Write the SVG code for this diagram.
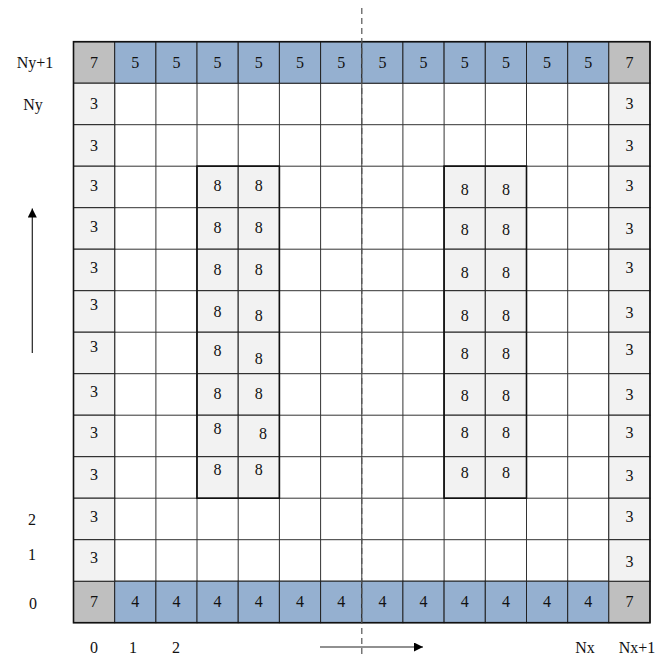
<svg xmlns="http://www.w3.org/2000/svg" width="665" height="655" viewBox="0 0 665 655">
<style>
.t{font-family:"Liberation Serif","Times New Roman",serif;font-size:16px;fill:#111;text-anchor:middle}
.b{fill:#95b0d0;stroke:#222;stroke-width:1}
.g{fill:#bfbfbf;stroke:#222;stroke-width:1}
.l{fill:#f2f2f2;stroke:#222;stroke-width:1}
.gl{stroke:#333;stroke-width:1;fill:none}
.ol{fill:none;stroke:#111;stroke-width:1.6}
</style>
<defs>
<marker id="ah" viewBox="0 0 10 10" refX="10" refY="5" markerWidth="13" markerHeight="9" markerUnits="userSpaceOnUse" orient="auto">
<path d="M0,0 L10,5 L0,10 Z" fill="#000"/>
</marker>
</defs>
<rect width="665" height="655" fill="#fff"/>
<g id="grid">
<rect x="73.5" y="41.7" width="576.5" height="581" fill="#fff"/>
<path class="gl" d="M114.7,41.7V622.7M155.9,41.7V622.7M197,41.7V622.7M238.2,41.7V622.7M279.4,41.7V622.7M320.6,41.7V622.7M361.8,41.7V622.7M402.9,41.7V622.7M444.1,41.7V622.7M485.3,41.7V622.7M526.5,41.7V622.7M567.7,41.7V622.7M608.8,41.7V622.7M73.5,83.2H650M73.5,124.7H650M73.5,166.2H650M73.5,207.7H650M73.5,249.2H650M73.5,290.7H650M73.5,332.2H650M73.5,373.7H650M73.5,415.2H650M73.5,456.7H650M73.5,498.2H650M73.5,539.7H650M73.5,581.2H650"/>
</g>
<!-- top row -->
<g id="t0"><rect class="g" x="73.5" y="41.7" width="41.2" height="41.5"/><text class="t" x="94.1" y="67.5">7</text></g>
<g id="t1"><rect class="b" x="114.7" y="41.7" width="41.2" height="41.5"/><text class="t" x="135.3" y="67.5">5</text></g>
<g id="t2"><rect class="b" x="155.9" y="41.7" width="41.2" height="41.5"/><text class="t" x="176.5" y="67.5">5</text></g>
<g id="t3"><rect class="b" x="197" y="41.7" width="41.2" height="41.5"/><text class="t" x="217.6" y="67.5">5</text></g>
<g id="t4"><rect class="b" x="238.2" y="41.7" width="41.2" height="41.5"/><text class="t" x="258.8" y="67.5">5</text></g>
<g id="t5"><rect class="b" x="279.4" y="41.7" width="41.2" height="41.5"/><text class="t" x="300" y="67.5">5</text></g>
<g id="t6"><rect class="b" x="320.6" y="41.7" width="41.2" height="41.5"/><text class="t" x="341.2" y="67.5">5</text></g>
<g id="t7"><rect class="b" x="361.8" y="41.7" width="41.2" height="41.5"/><text class="t" x="382.4" y="67.5">5</text></g>
<g id="t8"><rect class="b" x="402.9" y="41.7" width="41.2" height="41.5"/><text class="t" x="423.5" y="67.5">5</text></g>
<g id="t9"><rect class="b" x="444.1" y="41.7" width="41.2" height="41.5"/><text class="t" x="464.7" y="67.5">5</text></g>
<g id="t10"><rect class="b" x="485.3" y="41.7" width="41.2" height="41.5"/><text class="t" x="505.9" y="67.5">5</text></g>
<g id="t11"><rect class="b" x="526.5" y="41.7" width="41.2" height="41.5"/><text class="t" x="547.1" y="67.5">5</text></g>
<g id="t12"><rect class="b" x="567.7" y="41.7" width="41.2" height="41.5"/><text class="t" x="588.3" y="67.5">5</text></g>
<g id="t13"><rect class="g" x="608.8" y="41.7" width="41.2" height="41.5"/><text class="t" x="629.4" y="67.5">7</text></g>
<!-- bottom row -->
<g id="b0"><rect class="g" x="73.5" y="581.2" width="41.2" height="41.5"/><text class="t" x="94.1" y="607">7</text></g>
<g id="b1"><rect class="b" x="114.7" y="581.2" width="41.2" height="41.5"/><text class="t" x="135.3" y="607">4</text></g>
<g id="b2"><rect class="b" x="155.9" y="581.2" width="41.2" height="41.5"/><text class="t" x="176.5" y="607">4</text></g>
<g id="b3"><rect class="b" x="197" y="581.2" width="41.2" height="41.5"/><text class="t" x="217.6" y="607">4</text></g>
<g id="b4"><rect class="b" x="238.2" y="581.2" width="41.2" height="41.5"/><text class="t" x="258.8" y="607">4</text></g>
<g id="b5"><rect class="b" x="279.4" y="581.2" width="41.2" height="41.5"/><text class="t" x="300" y="607">4</text></g>
<g id="b6"><rect class="b" x="320.6" y="581.2" width="41.2" height="41.5"/><text class="t" x="341.2" y="607">4</text></g>
<g id="b7"><rect class="b" x="361.8" y="581.2" width="41.2" height="41.5"/><text class="t" x="382.4" y="607">4</text></g>
<g id="b8"><rect class="b" x="402.9" y="581.2" width="41.2" height="41.5"/><text class="t" x="423.5" y="607">4</text></g>
<g id="b9"><rect class="b" x="444.1" y="581.2" width="41.2" height="41.5"/><text class="t" x="464.7" y="607">4</text></g>
<g id="b10"><rect class="b" x="485.3" y="581.2" width="41.2" height="41.5"/><text class="t" x="505.9" y="607">4</text></g>
<g id="b11"><rect class="b" x="526.5" y="581.2" width="41.2" height="41.5"/><text class="t" x="547.1" y="607">4</text></g>
<g id="b12"><rect class="b" x="567.7" y="581.2" width="41.2" height="41.5"/><text class="t" x="588.3" y="607">4</text></g>
<g id="b13"><rect class="g" x="608.8" y="581.2" width="41.2" height="41.5"/><text class="t" x="629.4" y="607">7</text></g>
<!-- left column -->
<g id="l1"><rect class="l" x="73.5" y="83.2" width="41.2" height="41.5"/><text class="t" x="94.1" y="109">3</text></g>
<g id="l2"><rect class="l" x="73.5" y="124.7" width="41.2" height="41.5"/><text class="t" x="94.1" y="150.5">3</text></g>
<g id="l3"><rect class="l" x="73.5" y="166.2" width="41.2" height="41.5"/><text class="t" x="94.1" y="191">3</text></g>
<g id="l4"><rect class="l" x="73.5" y="207.7" width="41.2" height="41.5"/><text class="t" x="94.1" y="232">3</text></g>
<g id="l5"><rect class="l" x="73.5" y="249.2" width="41.2" height="41.5"/><text class="t" x="94.1" y="273">3</text></g>
<g id="l6"><rect class="l" x="73.5" y="290.7" width="41.2" height="41.5"/><text class="t" x="94.1" y="310">3</text></g>
<g id="l7"><rect class="l" x="73.5" y="332.2" width="41.2" height="41.5"/><text class="t" x="94.1" y="352">3</text></g>
<g id="l8"><rect class="l" x="73.5" y="373.7" width="41.2" height="41.5"/><text class="t" x="94.1" y="397">3</text></g>
<g id="l9"><rect class="l" x="73.5" y="415.2" width="41.2" height="41.5"/><text class="t" x="94.1" y="438">3</text></g>
<g id="l10"><rect class="l" x="73.5" y="456.7" width="41.2" height="41.5"/><text class="t" x="94.1" y="480">3</text></g>
<g id="l11"><rect class="l" x="73.5" y="498.2" width="41.2" height="41.5"/><text class="t" x="94.1" y="522">3</text></g>
<g id="l12"><rect class="l" x="73.5" y="539.7" width="41.2" height="41.5"/><text class="t" x="94.1" y="563">3</text></g>
<!-- right column -->
<g id="r1"><rect class="l" x="608.8" y="83.2" width="41.2" height="41.5"/><text class="t" x="629.4" y="109">3</text></g>
<g id="r2"><rect class="l" x="608.8" y="124.7" width="41.2" height="41.5"/><text class="t" x="629.4" y="150.5">3</text></g>
<g id="r3"><rect class="l" x="608.8" y="166.2" width="41.2" height="41.5"/><text class="t" x="629.4" y="191">3</text></g>
<g id="r4"><rect class="l" x="608.8" y="207.7" width="41.2" height="41.5"/><text class="t" x="629.4" y="234">3</text></g>
<g id="r5"><rect class="l" x="608.8" y="249.2" width="41.2" height="41.5"/><text class="t" x="629.4" y="273">3</text></g>
<g id="r6"><rect class="l" x="608.8" y="290.7" width="41.2" height="41.5"/><text class="t" x="629.4" y="318">3</text></g>
<g id="r7"><rect class="l" x="608.8" y="332.2" width="41.2" height="41.5"/><text class="t" x="629.4" y="355">3</text></g>
<g id="r8"><rect class="l" x="608.8" y="373.7" width="41.2" height="41.5"/><text class="t" x="629.4" y="400">3</text></g>
<g id="r9"><rect class="l" x="608.8" y="415.2" width="41.2" height="41.5"/><text class="t" x="629.4" y="438">3</text></g>
<g id="r10"><rect class="l" x="608.8" y="456.7" width="41.2" height="41.5"/><text class="t" x="629.4" y="481">3</text></g>
<g id="r11"><rect class="l" x="608.8" y="498.2" width="41.2" height="41.5"/><text class="t" x="629.4" y="522">3</text></g>
<g id="r12"><rect class="l" x="608.8" y="539.7" width="41.2" height="41.5"/><text class="t" x="629.4" y="567">3</text></g>
<!-- left 8 block -->
<g id="p3_3"><rect class="l" x="197" y="166.2" width="41.2" height="41.5"/><text class="t" x="217.6" y="191">8</text></g>
<g id="p3_4"><rect class="l" x="238.2" y="166.2" width="41.2" height="41.5"/><text class="t" x="258.8" y="191">8</text></g>
<g id="p4_3"><rect class="l" x="197" y="207.7" width="41.2" height="41.5"/><text class="t" x="217.6" y="233">8</text></g>
<g id="p4_4"><rect class="l" x="238.2" y="207.7" width="41.2" height="41.5"/><text class="t" x="258.8" y="233">8</text></g>
<g id="p5_3"><rect class="l" x="197" y="249.2" width="41.2" height="41.5"/><text class="t" x="217.6" y="275">8</text></g>
<g id="p5_4"><rect class="l" x="238.2" y="249.2" width="41.2" height="41.5"/><text class="t" x="258.8" y="275">8</text></g>
<g id="p6_3"><rect class="l" x="197" y="290.7" width="41.2" height="41.5"/><text class="t" x="217.6" y="317">8</text></g>
<g id="p6_4"><rect class="l" x="238.2" y="290.7" width="41.2" height="41.5"/><text class="t" x="258.8" y="321">8</text></g>
<g id="p7_3"><rect class="l" x="197" y="332.2" width="41.2" height="41.5"/><text class="t" x="217.6" y="356">8</text></g>
<g id="p7_4"><rect class="l" x="238.2" y="332.2" width="41.2" height="41.5"/><text class="t" x="258.8" y="364">8</text></g>
<g id="p8_3"><rect class="l" x="197" y="373.7" width="41.2" height="41.5"/><text class="t" x="217.6" y="399">8</text></g>
<g id="p8_4"><rect class="l" x="238.2" y="373.7" width="41.2" height="41.5"/><text class="t" x="258.8" y="399">8</text></g>
<g id="p9_3"><rect class="l" x="197" y="415.2" width="41.2" height="41.5"/><text class="t" x="217.6" y="434">8</text></g>
<g id="p9_4"><rect class="l" x="238.2" y="415.2" width="41.2" height="41.5"/><text class="t" x="263" y="439">8</text></g>
<g id="p10_3"><rect class="l" x="197" y="456.7" width="41.2" height="41.5"/><text class="t" x="217.6" y="475">8</text></g>
<g id="p10_4"><rect class="l" x="238.2" y="456.7" width="41.2" height="41.5"/><text class="t" x="258.8" y="475">8</text></g>
<!-- right 8 block -->
<g id="q3_9"><rect class="l" x="444.1" y="166.2" width="41.2" height="41.5"/><text class="t" x="464.7" y="195">8</text></g>
<g id="q3_10"><rect class="l" x="485.3" y="166.2" width="41.2" height="41.5"/><text class="t" x="505.9" y="195">8</text></g>
<g id="q4_9"><rect class="l" x="444.1" y="207.7" width="41.2" height="41.5"/><text class="t" x="464.7" y="235">8</text></g>
<g id="q4_10"><rect class="l" x="485.3" y="207.7" width="41.2" height="41.5"/><text class="t" x="505.9" y="235">8</text></g>
<g id="q5_9"><rect class="l" x="444.1" y="249.2" width="41.2" height="41.5"/><text class="t" x="464.7" y="278">8</text></g>
<g id="q5_10"><rect class="l" x="485.3" y="249.2" width="41.2" height="41.5"/><text class="t" x="505.9" y="278">8</text></g>
<g id="q6_9"><rect class="l" x="444.1" y="290.7" width="41.2" height="41.5"/><text class="t" x="464.7" y="321">8</text></g>
<g id="q6_10"><rect class="l" x="485.3" y="290.7" width="41.2" height="41.5"/><text class="t" x="505.9" y="321">8</text></g>
<g id="q7_9"><rect class="l" x="444.1" y="332.2" width="41.2" height="41.5"/><text class="t" x="464.7" y="359">8</text></g>
<g id="q7_10"><rect class="l" x="485.3" y="332.2" width="41.2" height="41.5"/><text class="t" x="505.9" y="359">8</text></g>
<g id="q8_9"><rect class="l" x="444.1" y="373.7" width="41.2" height="41.5"/><text class="t" x="464.7" y="401">8</text></g>
<g id="q8_10"><rect class="l" x="485.3" y="373.7" width="41.2" height="41.5"/><text class="t" x="505.9" y="401">8</text></g>
<g id="q9_9"><rect class="l" x="444.1" y="415.2" width="41.2" height="41.5"/><text class="t" x="464.7" y="438">8</text></g>
<g id="q9_10"><rect class="l" x="485.3" y="415.2" width="41.2" height="41.5"/><text class="t" x="505.9" y="438">8</text></g>
<g id="q10_9"><rect class="l" x="444.1" y="456.7" width="41.2" height="41.5"/><text class="t" x="464.7" y="478">8</text></g>
<g id="q10_10"><rect class="l" x="485.3" y="456.7" width="41.2" height="41.5"/><text class="t" x="505.9" y="478">8</text></g>
<g id="outlines">
<rect class="ol" x="197" y="166.2" width="82.4" height="332"/>
<rect class="ol" x="444.1" y="166.2" width="82.4" height="332"/>
<rect class="ol" x="73.5" y="41.7" width="576.5" height="581"/>
</g>
<g id="axis-labels">
<text class="t" x="35" y="68">Ny+1</text>
<text class="t" x="33" y="110">Ny</text>
<text class="t" x="32" y="525">2</text>
<text class="t" x="32" y="560">1</text>
<text class="t" x="33" y="609">0</text>
<text class="t" x="94" y="653">0</text>
<text class="t" x="133" y="653">1</text>
<text class="t" x="176" y="653">2</text>
<text class="t" x="585" y="653">Nx</text>
<text class="t" x="637" y="653">Nx+1</text>
</g>
<g id="connectors">
<line x1="361.8" y1="8" x2="361.8" y2="655" stroke="#555" stroke-width="1.2" stroke-dasharray="6,4"/>
<line x1="32.3" y1="353" x2="32.3" y2="208.5" stroke="#222" stroke-width="1.2" marker-end="url(#ah)"/>
<line x1="320" y1="647" x2="423" y2="647" stroke="#222" stroke-width="1.2" marker-end="url(#ah)"/>
</g>
</svg>
